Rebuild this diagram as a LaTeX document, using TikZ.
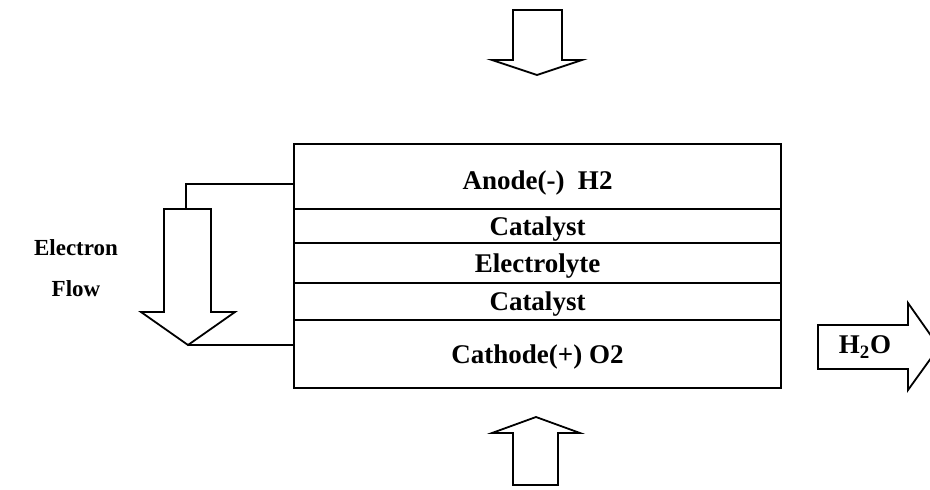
\documentclass[tikz,border=0pt]{standalone}
\usepackage{fontspec}
\setmainfont{Liberation Serif}
\usetikzlibrary{positioning}

\begin{document}
\begin{tikzpicture}[x=0.5pt, y=-0.5pt, line width=0.9pt,
    every node/.style={font=\bfseries\fontsize{13.5}{16}\selectfont},
    layer/.style={draw, minimum width=243.5pt, inner sep=0pt, outer sep=0pt,
      text height=9pt, text depth=0pt}]
  \useasboundingbox (0,0) rectangle (930,489);
  % fuel cell stack
  \node[layer, minimum height=32.5pt, anchor=north] (anode) at (537.5,144) {\raisebox{-2pt}{Anode(-)~~H2}};
  \node[layer, minimum height=17pt, below=0pt of anode] (cat1) {Catalyst};
  \node[layer, minimum height=20pt, below=0pt of cat1] (elyte) {Electrolyte};
  \node[layer, minimum height=18.5pt, below=0pt of elyte] (cat2) {Catalyst};
  \node[layer, minimum height=34pt, below=0pt of cat2] (cathode) {Cathode(+) O2};
  % gas inlets
  \draw (513,10) -- (562,10) -- (562,60) -- (582,60) -- (537,75) -- (492,60) -- (513,60) -- cycle;
  \draw (513,485) -- (558,485) -- (558,433) -- (580,433) -- (536,417) -- (492,433) -- (513,433) -- cycle;
  % electron flow
  \coordinate (etail) at (186,209);
  \coordinate (etip) at (188,345);
  \draw (164,209) -- (211,209) -- (211,312) -- (235,312) -- (etip) -- (141,312) -- (164,312) -- cycle;
  \draw (etail) |- ([yshift=-3.75pt]anode.west);
  \draw (etip) -- (etip -| cathode.west);
  \node[align=center, font=\bfseries\fontsize{11.5}{20.5}\selectfont] (eflow) at (76,268) {Electron\\Flow};
  % water out
  \draw (818,325) -- (908,325) -- (908,303) -- (939,347) -- (908,390) -- (908,369) -- (818,369) -- cycle;
  \node (h2o) at (865,347) {H\textsubscript{2}O};
\end{tikzpicture}
\end{document}
